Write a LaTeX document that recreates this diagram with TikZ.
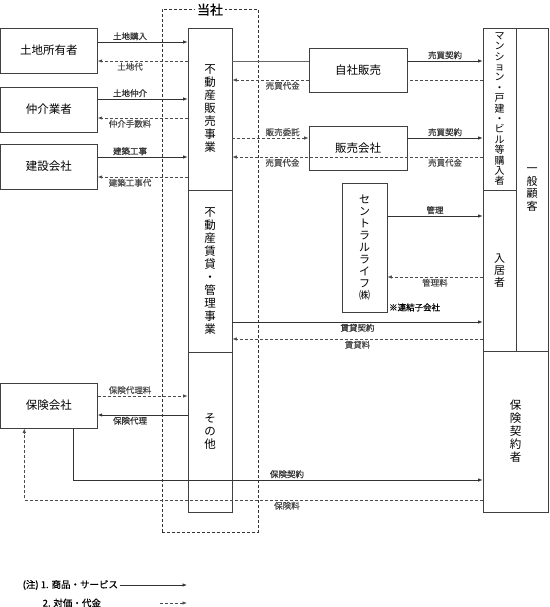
\documentclass[tikz,border=0pt]{standalone}
\usepackage{fontspec}
\setmainfont{Noto Sans CJK JP}
\newfontfamily\labfont{Noto Sans CJK JP}[FakeBold=0.6]
\usetikzlibrary{arrows.meta,positioning}
\tikzset{
  box/.style  = {draw=black!75, line width=0.8pt, fill=white, inner sep=0pt,
                 font=\fontsize{11.5}{13}\selectfont},
  tate/.style = {align=center, font=\fontsize{11.5}{13}\selectfont},
  frame/.style = {draw=black!80, line width=0.7pt, dash pattern=on 3pt off 2pt},
  flow/.style = {-{Latex[length=4.5pt,width=3.5pt]}, line width=0.7pt, black!80},
  pay/.style  = {flow, dash pattern=on 3pt off 2pt, black!70},
  link/.style = {line width=0.7pt, black!60},
  lab/.style  = {font=\labfont\fontsize{8.5}{10}\selectfont, inner sep=1.5pt},
  note/.style = {font=\labfont\fontsize{9.5}{11}\selectfont, inner sep=1.5pt},
}

\begin{document}
\begin{tikzpicture}[x=1pt,y=-1pt]
  \useasboundingbox (0,0) rectangle (549,607);
  % company frame
  \node[frame, minimum width=96pt, minimum height=523pt] (company) at (210,270.5) {};
  \node[fill=white, inner sep=2pt, font=\labfont\fontsize{13}{15}\selectfont] (tosha) at ([yshift=-1pt]company.north) {当社};

  % left partners
  \node[box, minimum width=97pt, minimum height=45pt] (owner)   at (48.8,50.5)  {土地所有者};
  \node[box, minimum width=97pt, minimum height=45pt] (broker)  at (48.8,109.5) {仲介業者};
  \node[box, minimum width=97pt, minimum height=45pt] (builder) at (48.8,166.5) {建設会社};
  \node[box, minimum width=97pt, minimum height=45pt] (insco)   at (48.8,405.5) {保険会社};

  % business column
  \node[box, tate, minimum width=44pt, minimum height=162pt] (sales) at (210,109)
    {不\\動\\産\\販\\売\\事\\業};
  \node[box, tate, minimum width=44pt, minimum height=162pt, below=-0.8pt of sales] (rental)
    {不\\動\\産\\賃\\貸\\・\\管\\理\\事\\業};
  \node[box, tate, minimum width=44pt, minimum height=160pt, below=-0.8pt of rental] (other)
    {そ\\の\\他};

  % sales channels
  \node[box, minimum width=98pt, minimum height=44pt] (selfsale) at (358,70)  {自社販売};
  \node[box, minimum width=98pt, minimum height=44pt] (salesco)  at (358,148) {販売会社};
  \node[box, tate, font=\fontsize{11}{12}\selectfont, minimum width=45pt, minimum height=129pt]
    (clife) at (364.5,247.5) {セ\\ン\\ト\\ラ\\ル\\ラ\\イ\\フ\\㈱};
  \node[lab, anchor=west] (subsid) at ([yshift=5pt]clife.south east) {※連結子会社};

  % customers
  \node[box, tate, font=\fontsize{10}{10.4}\selectfont, minimum width=33pt, minimum height=162pt]
    (buyer) at (499.5,109) {マ\\ン\\シ\\ョ\\ン\\・\\戸\\建\\・\\ビ\\ル\\等\\購\\入\\者};
  \node[box, tate, font=\fontsize{11}{12}\selectfont, minimum width=33pt, minimum height=161pt,
    below=-0.8pt of buyer] (tenant) {入\\居\\者};
  \node[box, tate, font=\fontsize{11}{12.5}\selectfont, minimum width=32pt, minimum height=323pt]
    (general) at (532,189.5) {一\\般\\顧\\客};
  \node[box, tate, minimum width=65pt, minimum height=161pt] (insured) at (515.5,431.5)
    {保\\険\\契\\約\\者};

  % land, brokerage, construction
  \draw[flow] ([yshift=8.5pt]owner.east) -- ([yshift=8.5pt]owner.east -| sales.west)
    node[lab, pos=0.36, above] {土地購入};
  \draw[pay] ([yshift=-10.5pt]owner.east -| sales.west) -- ([yshift=-10.5pt]owner.east)
    node[lab, pos=0.64, below] {土地代};
  \draw[flow] ([yshift=10.5pt]broker.east) -- ([yshift=10.5pt]broker.east -| sales.west)
    node[lab, pos=0.36, above] {土地仲介};
  \draw[pay] ([yshift=-8.5pt]broker.east -| sales.west) -- ([yshift=-8.5pt]broker.east)
    node[lab, pos=0.64, below] {仲介手数料};
  \draw[flow] ([yshift=9.5pt]builder.east) -- ([yshift=9.5pt]builder.east -| sales.west)
    node[lab, pos=0.36, above] {建築工事};
  \draw[pay] ([yshift=-10.5pt]builder.east -| sales.west) -- ([yshift=-10.5pt]builder.east)
    node[lab, pos=0.64, below] {建築工事代};

  % own sales
  \draw[link] ([yshift=9pt]selfsale.west -| sales.east) -- ([yshift=9pt]selfsale.west);
  \draw[flow] ([yshift=9pt]selfsale.east) -- ([yshift=9pt]selfsale.east -| buyer.west)
    node[lab, midway, above] {売買契約};
  \draw[pay, -] ([yshift=-10pt]selfsale.east -| buyer.west) -- ([yshift=-10pt]selfsale.east);
  \draw[pay] ([yshift=-10pt]selfsale.west) -- ([yshift=-10pt]selfsale.west -| sales.east)
    node[lab, pos=0.34, below] {売買代金};

  % sales company
  \draw[pay] ([yshift=10pt]salesco.west -| sales.east) -- ([yshift=10pt]salesco.west)
    node[lab, pos=0.66, above] {販売委託};
  \draw[flow] ([yshift=10pt]salesco.east) -- ([yshift=10pt]salesco.east -| buyer.west)
    node[lab, midway, above] {売買契約};
  \draw[pay] ([yshift=-9pt]salesco.east -| buyer.west) -- ([yshift=-9pt]salesco.east -| sales.east)
    node[lab, pos=0.15, below] {売買代金}
    node[lab, pos=0.8, below] {売買代金};

  % management and rental
  \draw[flow] ([yshift=31.5pt]clife.east) -- ([yshift=31.5pt]clife.east -| tenant.west)
    node[lab, midway, above] {管理};
  \draw[pay] ([yshift=-29.5pt]clife.east -| tenant.west) -- ([yshift=-29.5pt]clife.east)
    node[lab, midway, below] {管理料};
  \draw[flow] ([yshift=-51pt]rental.east) -- ([yshift=-51pt]rental.east -| tenant.west)
    node[lab, midway, below] {賃貸契約};
  \draw[pay] ([yshift=-68pt]rental.east -| tenant.west) -- ([yshift=-68pt]rental.east)
    node[lab, midway, below] {賃貸料};

  % insurance
  \draw[pay] ([yshift=9.5pt]insco.east) -- ([yshift=9.5pt]insco.east -| other.west)
    node[lab, pos=0.36, above] {保険代理料};
  \draw[flow] ([yshift=-9.5pt]insco.east -| other.west) -- ([yshift=-9.5pt]insco.east)
    node[lab, pos=0.64, below] {保険代理};
  \draw[flow] ([xshift=24.5pt]insco.south) |- ([yshift=-48.5pt]insured.west)
    node[lab, pos=0.761, above] {保険契約};
  \draw[pay] ([yshift=-68.5pt]insured.west) -| ([xshift=-24.5pt]insco.south)
    node[lab, pos=0.2135, below] {保険料};

  % legend
  \node[note, anchor=west] (note1) at (21,585) {(注) 1. 商品・サービス};
  \coordinate (note1end) at (187,585);
  \draw[flow] (note1.east) -- (note1end);
  \node[note, anchor=west] (note2) at (41,603) {2. 対価・代金};
  \coordinate (note2end) at (187,603);
  \draw[pay] ([xshift=-27pt]note2end) -- (note2end);
\end{tikzpicture}
\end{document}
